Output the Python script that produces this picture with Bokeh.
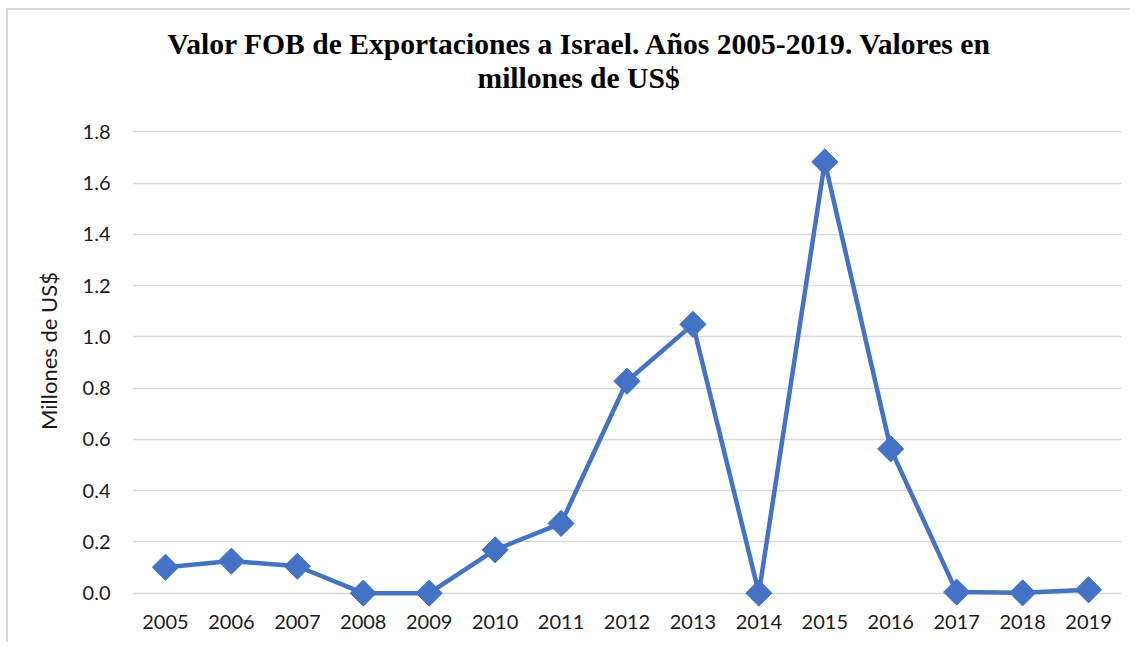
import math
from bokeh.plotting import figure
from bokeh.models import Range1d, FixedTicker, ColumnDataSource, Title
from bokeh.embed import file_html
from bokeh.resources import INLINE

years = ["2005", "2006", "2007", "2008", "2009", "2010", "2011", "2012",
         "2013", "2014", "2015", "2016", "2017", "2018", "2019"]
values = [0.101, 0.125, 0.105, 0.0, 0.0, 0.169, 0.272, 0.827,
          1.049, 0.0, 1.683, 0.563, 0.004, 0.001, 0.013]
y_ticks = [0.0, 0.2, 0.4, 0.6, 0.8, 1.0, 1.2, 1.4, 1.6, 1.8]
y_tick_labels = {t: f"{t:.1f}" for t in y_ticks}

title_line1 = "Valor FOB de Exportaciones a Israel. Años 2005-2019. Valores en"
title_line2 = "millones de US$"
y_label = "Millones de US$"

src = ColumnDataSource(dict(x=years, y=values))

p = figure(x_range=years, y_range=Range1d(-0.06, 1.95),
           width=1124, height=634, output_backend="svg", toolbar_location=None,
           min_border_left=124, min_border_right=11, min_border_top=83,
           min_border_bottom=36)

p.title.text = ""
for txt, off in ((title_line2, 345), (title_line1, 35)):
    t = Title(text=txt, align="left", offset=off, text_font="Liberation Serif",
              text_font_style="bold", text_font_size="29.6px", text_color="#000000",
              standoff=0)
    p.add_layout(t, "above")

p.outline_line_color = None
p.background_fill_color = "white"
p.border_fill_color = "white"
p.styles = {"border-top": "2px solid #d9d9d9", "border-left": "2px solid #d9d9d9",
            "margin-left": "6px", "margin-top": "8px"}

p.xgrid.grid_line_color = None
p.ygrid.grid_line_color = "#d9d9d9"
p.ygrid.grid_line_width = 1.5

p.yaxis.ticker = FixedTicker(ticks=y_ticks)
p.yaxis.major_label_overrides = y_tick_labels
for ax in (p.xaxis[0], p.yaxis[0]):
    ax.axis_line_color = None
    ax.major_tick_line_color = None
    ax.minor_tick_line_color = None
    ax.major_label_text_font = "Lato"
    ax.major_label_text_font_size = "20px"
    ax.major_label_text_color = "#1a1a1a"
p.yaxis.major_label_standoff = 16
p.xaxis.major_label_standoff = 0
p.yaxis.axis_label = y_label
p.yaxis.axis_label_text_font = "Lato"
p.yaxis.axis_label_text_font_size = "22px"
p.yaxis.axis_label_text_font_style = "normal"
p.yaxis.axis_label_text_color = "#1a1a1a"
p.yaxis.axis_label_standoff = 18

p.line("x", "y", source=src, line_color="#4472C4", line_width=4.5)
p.scatter("x", "y", source=src, marker="square", size=18.5, angle=math.pi / 4,
          fill_color="#4472C4", line_color="#4472C4")

open("out.html", "w").write(file_html(p, INLINE))
